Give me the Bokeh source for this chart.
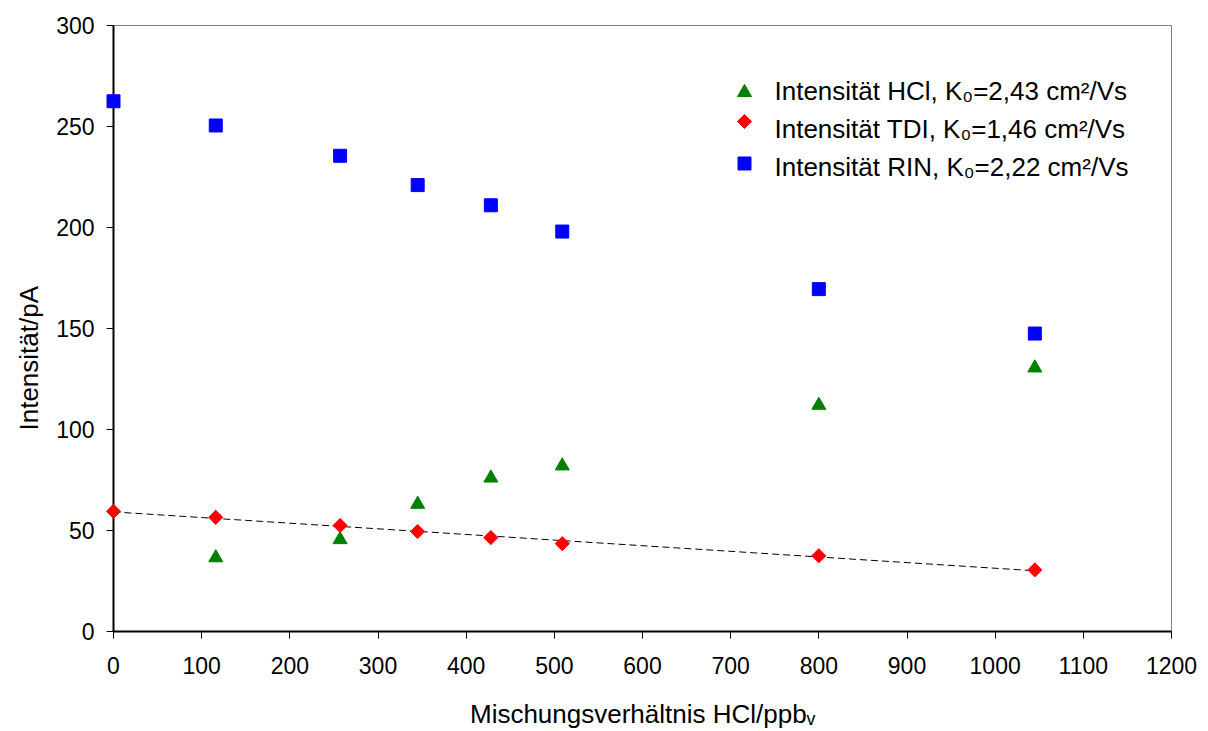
import numpy as np
from bokeh.plotting import figure
from bokeh.models import Range1d, FixedTicker, Label, Title
from bokeh.embed import file_html
from bokeh.resources import INLINE

# data
x_hcl = [116, 257, 345, 428, 509, 800, 1045]
y_hcl = [36.5, 45.5, 63, 76, 82, 112, 130.5]

x_tdi = [0, 116, 257, 345, 428, 509, 800, 1045]
y_tdi = [59.5, 56.5, 52.5, 49.5, 46.5, 43.5, 37.5, 30.5]

x_rin = [0, 116, 257, 345, 428, 509, 800, 1045]
y_rin = [262.5, 250.5, 235.5, 221, 211, 198, 169.5, 147.5]

x_ticks = list(range(0, 1201, 100))
y_ticks = list(range(0, 301, 50))

labels = ["Intensität HCl, K₀=2,43 cm²/Vs",
          "Intensität TDI, K₀=1,46 cm²/Vs",
          "Intensität RIN, K₀=2,22 cm²/Vs"]

FONT = "Liberation Sans"
X0, X1, Y0, Y1 = 0, 1200, 0, 300

W, H = 1208, 731
BL, BR, BT, BB = 113, 37, 25, 100
FW, FH = W - BL - BR, H - BT - BB

p = figure(width=W, height=H, output_backend="svg", toolbar_location=None,
           x_range=Range1d(X0, X1), y_range=Range1d(Y0, Y1),
           min_border_left=BL, min_border_right=BR, min_border_top=BT, min_border_bottom=BB)
p.xgrid.visible = False
p.ygrid.visible = False
p.outline_line_color = "#808080"
p.outline_line_width = 1
p.background_fill_color = "white"
p.border_fill_color = "white"

for ax in (p.xaxis[0], p.yaxis[0]):
    ax.axis_line_color = "black"
    ax.axis_line_width = 2
    ax.major_tick_line_color = "black"
    ax.major_tick_line_width = 1
    ax.major_tick_out = 7
    ax.major_tick_in = 0
    ax.minor_tick_out = 0
    ax.minor_tick_in = 0
    ax.major_label_text_font = FONT
    ax.major_label_text_font_size = "23px"
    ax.major_label_text_color = "black"

p.xaxis[0].ticker = FixedTicker(ticks=x_ticks)
p.yaxis[0].ticker = FixedTicker(ticks=y_ticks)
p.xaxis[0].major_label_standoff = 18
p.yaxis[0].major_label_standoff = 12

p.xaxis[0].axis_label = "Mischungsverhältnis HCl/ppbᵥ"
p.xaxis[0].axis_label_text_font = FONT
p.xaxis[0].axis_label_text_font_size = "26px"
p.xaxis[0].axis_label_text_font_style = "normal"
p.xaxis[0].axis_label_text_color = "black"
p.xaxis[0].axis_label_standoff = 22

# y axis title, drawn as a side title so it can sit a little below the middle
ytitle = Title(text="Intensität/pA", align="left", offset=201, standoff=20,
               text_font=FONT, text_font_size="26px", text_font_style="normal",
               text_color="black")
p.add_layout(ytitle, "left")

# trend line for TDI (linear fit)
coef = np.polyfit(x_tdi, y_tdi, 1)
xt = np.array([min(x_tdi), max(x_tdi)])
p.line(xt, np.polyval(coef, xt), line_color="black", line_width=1, line_dash="7 4")

sty_hcl = dict(marker="triangle", size=14, fill_color="#008000", line_color="#008000")
sty_tdi = dict(marker="square", angle=np.pi / 4, size=10, fill_color="#FF0000", line_color="#FF0000")
sty_rin = dict(marker="square", size=13, fill_color="#0000FF", line_color="#0000FF")

# overlay level: markers sitting on the axis are drawn whole, over the axis line
p.scatter(x_hcl, y_hcl, level="overlay", **sty_hcl)
p.scatter(x_tdi, y_tdi, level="overlay", **sty_tdi)
p.scatter(x_rin, y_rin, level="overlay", **sty_rin)

# legend (keys + texts), placed in pixels of the page
def px_to_data(sx, sy):
    xd = X0 + (sx - BL) / FW * (X1 - X0)
    yd = Y0 + (H - BB - sy) / FH * (Y1 - Y0)
    return xd, yd

key_px = [(744, 92), (744, 121), (744, 163)]
text_px = [(774, 90), (774, 128), (774, 166)]
for sty, (kx, ky), (tx, ty), lab in zip((sty_hcl, sty_tdi, sty_rin), key_px, text_px, labels):
    xd, yd = px_to_data(kx, ky)
    p.scatter([xd], [yd], **sty)
    p.add_layout(Label(x=tx - BL, y=H - BB - ty, x_units="screen", y_units="screen",
                       text=lab, text_align="left", text_baseline="middle",
                       text_font=FONT, text_font_size="26px", text_color="black"))

open("out.html", "w").write(file_html(p, INLINE))
